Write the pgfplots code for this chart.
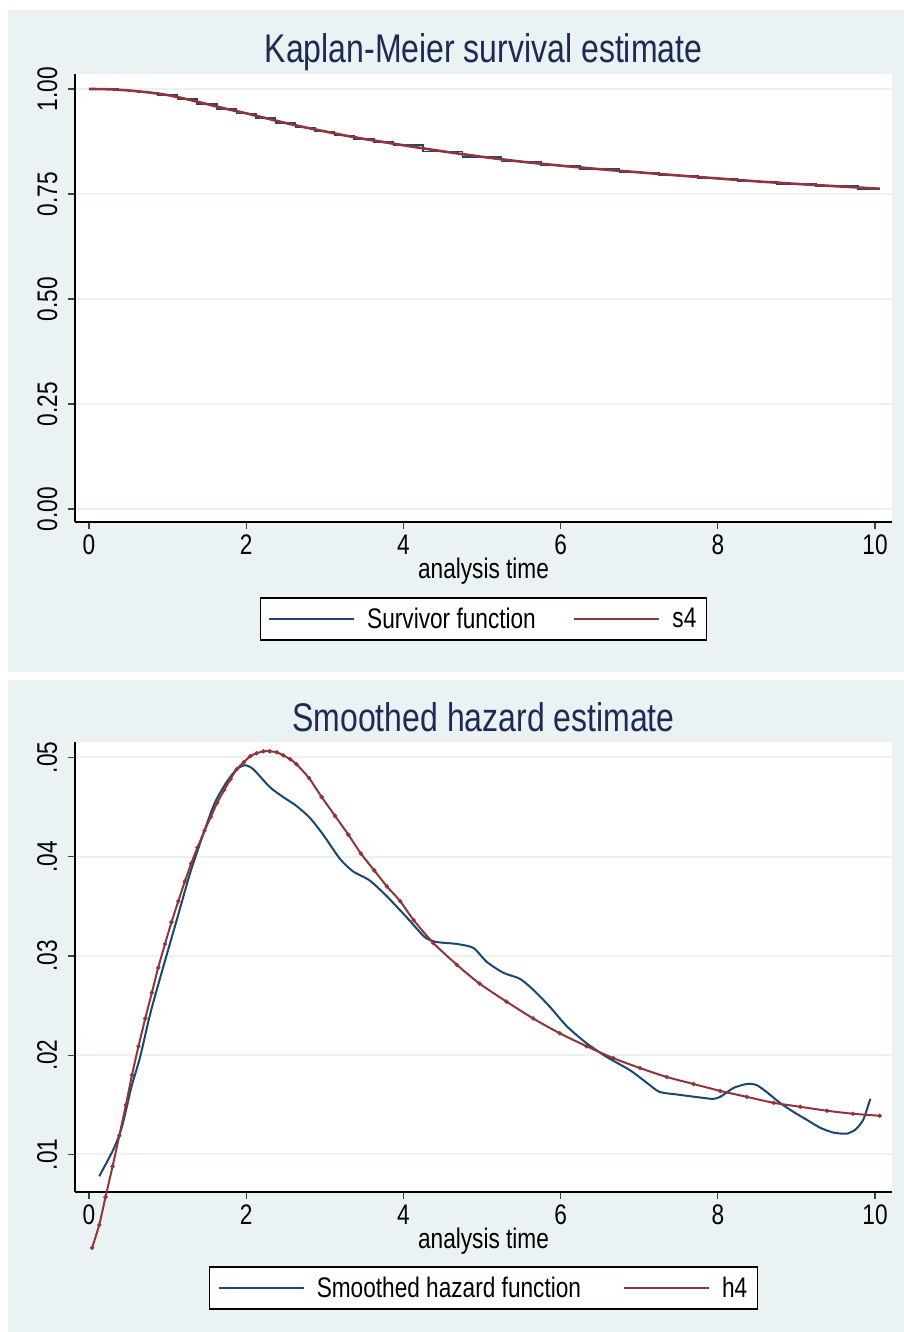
\documentclass[border=0pt]{standalone}
\usepackage{fontspec}
\setmainfont{Liberation Sans}[FakeStretch=0.8]
\usepackage{pgfplots}
\pgfplotsset{compat=1.18}

\definecolor{bgc}{HTML}{EAF2F3}
\definecolor{gridc}{HTML}{EAF2F3}
\definecolor{sblue}{RGB}{26,71,111}
\definecolor{sred}{RGB}{144,53,59}
\definecolor{titc}{HTML}{1C2B53}

\newcommand\lab{\fontsize{28.3}{34}\selectfont}
\newcommand\tit{\fontsize{40}{48}\selectfont}

\pgfplotsset{
  stata/.style={
    scale only axis, width=817pt,
    xmin=-0.178, xmax=10.216,
    axis x line*=bottom, axis y line*=left,
    axis line style={-, black, line width=1.3pt},
    axis background/.style={fill=white},
    tick align=outside, major tick length=7pt,
    every tick/.append style={black!75, line width=1.3pt},
    xtick={0,2,4,6,8,10}, xticklabels={0,2,4,6,8,10},
    scaled y ticks=false, scaled x ticks=false,
    ymajorgrids, major grid style={gridc, line width=2pt},
    ticklabel style={font=\lab, text=black},
    xticklabel style={anchor=base},
    xticklabel shift=26pt,
    yticklabel style={rotate=90, anchor=base},
    yticklabel shift=11pt,
    xlabel={analysis time}, label style={font=\lab},
    title style={font=\tit, text=titc, anchor=base},
    legend columns=2,
    legend image code/.code={\draw[#1] (0pt,0pt) -- (85pt,0pt);},
    legend style={font=\lab, draw=black, line width=1.2pt, fill=white,
      inner xsep=8pt, inner ysep=8pt, nodes={inner sep=2pt},
      /tikz/every odd column/.append style={column sep=10pt},
      anchor=center},
  }
}

\begin{document}
\begin{tikzpicture}[x=1pt,y=1pt]
\path[fill=white] (0,0) rectangle (904,1332);
\fill[bgc] (7.5,1322) rectangle (904,660);
\fill[bgc] (7.5,652) rectangle (904,0);

% ---------- Kaplan-Meier ----------
\begin{axis}[stata,
  at={(75pt,810pt)}, anchor=south west, height=448pt,
  ymin=-0.031, ymax=1.0357,
  ytick={0,0.25,0.5,0.75,1}, yticklabels={0.00,0.25,0.50,0.75,1.00},
  title={Kaplan-Meier survival estimate},
  title style={at={(0.5,1.013)}},
  xlabel style={at={(axis description cs:0.5,-0.127)}, anchor=base},
  legend style={at={(0.5,-0.2165)}, /tikz/every even column/.append style={column sep=35pt}},
]
\addplot[sblue, line width=1.6pt, const plot mark mid] table {
t S
0 1.000
0.25 0.9993
0.5 0.9965
0.75 0.9920
1.0 0.9855
1.25 0.9755
1.5 0.9640
1.75 0.9525
2.0 0.9420
2.25 0.9305
2.5 0.9190
2.75 0.9085
3.0 0.8990
3.25 0.8895
3.5 0.8810
3.75 0.8735
4.0 0.8660
4.5 0.8515
5.0 0.8385
5.5 0.8270
6.0 0.8175
6.5 0.8090
7.0 0.8015
7.5 0.7940
8.0 0.7870
8.5 0.7800
9.0 0.7740
9.5 0.7685
10.06 0.7625
};
\addplot[sred, line width=2.6pt, smooth, tension=0.4] table {
t S
0 1.000
0.25 0.9993
0.5 0.9965
0.75 0.9920
1.0 0.9855
1.25 0.9755
1.5 0.9640
1.75 0.9525
2.0 0.9420
2.25 0.9305
2.5 0.9190
2.75 0.9085
3.0 0.8990
3.25 0.8895
3.5 0.8810
3.75 0.8735
4.0 0.8660
4.5 0.8515
5.0 0.8385
5.5 0.8270
6.0 0.8175
6.5 0.8090
7.0 0.8015
7.5 0.7940
8.0 0.7870
8.5 0.7800
9.0 0.7740
9.5 0.7685
10.06 0.7625
};
\legend{Survivor function, s4}
\end{axis}

% ---------- Smoothed hazard ----------
\begin{axis}[stata,
  at={(75pt,140pt)}, anchor=south west, height=450pt,
  ymin=0.00622, ymax=0.05154, clip=false,
  ytick={0.01,0.02,0.03,0.04,0.05}, yticklabels={.01,.02,.03,.04,.05},
  title={Smoothed hazard estimate},
  title style={at={(0.5,1.009)}},
  xlabel style={at={(axis description cs:0.5,-0.126)}, anchor=base},
  legend style={at={(0.5,-0.2133)}, /tikz/every even column/.append style={column sep=40pt}},
]
\addplot[sblue, line width=2pt, smooth, tension=0.4] table {
t h
0.13 0.0078
0.31 0.0105
0.42 0.0128
0.54 0.0168
0.65 0.0198
0.78 0.0242
0.945 0.0289
1.116 0.0336
1.285 0.0383
1.455 0.0423
1.60 0.0454
1.75 0.0475
1.88 0.0488
1.985 0.0492
2.09 0.0488
2.30 0.0470
2.47 0.0460
2.64 0.0451
2.81 0.0439
2.98 0.0422
3.19 0.0398
3.36 0.0385
3.57 0.0376
3.79 0.0360
4.04 0.0339
4.27 0.0319
4.42 0.0314
4.68 0.0312
4.89 0.0308
5.06 0.0294
5.27 0.0283
5.48 0.0277
5.65 0.0266
5.86 0.0249
6.08 0.0229
6.33 0.0212
6.59 0.0198
6.88 0.0185
7.10 0.0172
7.26 0.0163
7.52 0.0160
7.81 0.0157
7.94 0.0156
8.03 0.0158
8.20 0.0167
8.37 0.0171
8.49 0.0170
8.62 0.0163
8.79 0.0152
8.96 0.0143
9.13 0.0135
9.30 0.0127
9.47 0.0122
9.64 0.0121
9.75 0.0125
9.85 0.0135
9.94 0.0156
};
\addplot[sred, line width=2pt, smooth, tension=0.4, mark=*, mark size=1.0pt, mark options={fill=sred!85!black, draw=none}] table {
t h
0.04 0.0006
0.13 0.0029
0.21 0.0057
0.30 0.0088
0.386 0.0119
0.47 0.0150
0.547 0.0180
0.63 0.0209
0.716 0.0237
0.80 0.0263
0.88 0.0288
0.967 0.0312
1.05 0.0334
1.136 0.0355
1.22 0.0375
1.30 0.0393
1.38 0.0409
1.47 0.0426
1.55 0.0440
1.63 0.0454
1.72 0.0467
1.80 0.0478
1.88 0.0488
1.97 0.0495
2.05 0.0501
2.13 0.0504
2.22 0.0506
2.30 0.0506
2.39 0.0505
2.47 0.0502
2.56 0.0498
2.64 0.0493
2.80 0.0479
2.96 0.0460
3.13 0.0441
3.30 0.0422
3.46 0.0403
3.63 0.0386
3.79 0.0370
3.96 0.0355
4.13 0.0336
4.38 0.0313
4.68 0.0291
4.97 0.0272
5.31 0.0254
5.65 0.0237
5.99 0.0222
6.33 0.0209
6.67 0.0197
7.01 0.0187
7.35 0.0178
7.69 0.0171
8.03 0.0164
8.37 0.0158
8.71 0.0152
9.05 0.0148
9.39 0.0144
9.72 0.0141
10.06 0.0139
};
\legend{Smoothed hazard function, h4}
\end{axis}
\end{tikzpicture}
\end{document}
